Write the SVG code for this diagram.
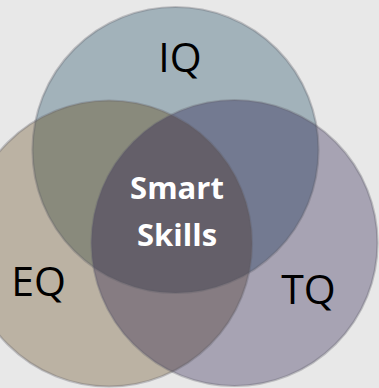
<svg xmlns="http://www.w3.org/2000/svg" width="379" height="388" viewBox="0 0 379 388">
  <defs>
    <clipPath id="clipIQ"><circle cx="175.5" cy="150" r="143"/></clipPath>
    <clipPath id="clipEQ"><circle cx="109" cy="243.5" r="143"/></clipPath>
    <clipPath id="clipTQ"><circle cx="234.5" cy="243" r="143"/></clipPath>
    <style>
      .edge { fill: none; stroke: #5c5c68; stroke-opacity: 0.32; stroke-width: 2.2; }
      .label { font-family: "Open Sans", "Liberation Sans", sans-serif; font-size: 41px; fill: #000000; text-anchor: middle; }
      .core { font-family: "Open Sans", "Liberation Sans", sans-serif; font-size: 31px; font-weight: bold; fill: #ffffff; text-anchor: middle; }
    </style>
  </defs>

  <rect width="379" height="388" fill="#e8e8e8"/>

  <!-- base discs -->
  <g id="iq">
    <circle cx="175.5" cy="150" r="143" fill="#a2b2ba"/>
  </g>
  <g id="eq">
    <circle cx="109" cy="243.5" r="143" fill="#bbb2a3"/>
  </g>
  <g id="tq">
    <circle cx="234.5" cy="243" r="143" fill="#a7a3b3"/>
  </g>

  <!-- pairwise overlaps -->
  <g id="overlaps">
    <circle cx="109" cy="243.5" r="143" fill="#898a7c" clip-path="url(#clipIQ)"/>
    <circle cx="234.5" cy="243" r="143" fill="#737a91" clip-path="url(#clipIQ)"/>
    <circle cx="234.5" cy="243" r="143" fill="#867c82" clip-path="url(#clipEQ)"/>
  </g>

  <!-- centre where all three meet -->
  <g id="smart-skills">
    <g clip-path="url(#clipIQ)">
      <circle cx="234.5" cy="243" r="143" fill="#645f69" clip-path="url(#clipEQ)"/>
    </g>
    <text class="core" x="177" y="199">Smart</text>
    <text class="core" x="177" y="246">Skills</text>
  </g>

  <!-- circle outlines -->
  <g id="outlines">
    <circle class="edge" cx="175.5" cy="150" r="143"/>
    <circle class="edge" cx="109" cy="243.5" r="143"/>
    <circle class="edge" cx="234.5" cy="243" r="143"/>
  </g>

  <!-- circle labels -->
  <g id="labels">
    <text class="label" x="180" y="72">IQ</text>
    <text class="label" x="38.5" y="296">EQ</text>
    <text class="label" x="308.5" y="304">TQ</text>
  </g>
</svg>
